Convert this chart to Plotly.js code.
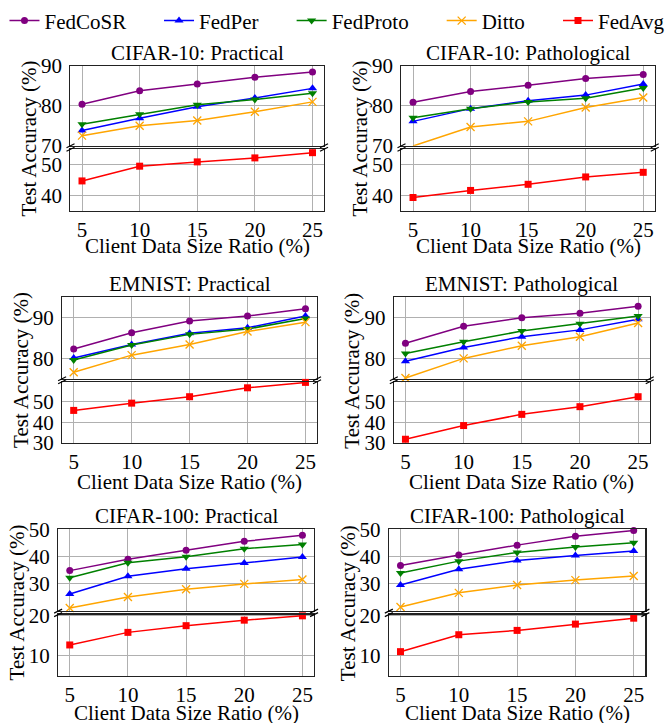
<!DOCTYPE html>
<html><head><meta charset="utf-8">
<script src="https://cdn.plot.ly/plotly-3.0.1.min.js"></script>
<style>body{margin:0;background:#fff;} #chart{width:670px;height:723px;}</style>
</head><body><div id="chart"></div>
<script>
// ---------------- data ----------------
const ratios = [5, 10, 15, 20, 25];
const seriesNames = ['FedCoSR', 'FedPer', 'FedProto', 'Ditto', 'FedAvg'];
const panelTitles = ['CIFAR-10: Practical', 'CIFAR-10: Pathological',
                     'EMNIST: Practical', 'EMNIST: Pathological',
                     'CIFAR-100: Practical', 'CIFAR-100: Pathological'];
// one row per panel, in the order of panelTitles
const fedCoSR = [
  [80.4, 83.8, 85.5, 87.2, 88.5],
  [80.9, 83.6, 85.2, 86.9, 87.9],
  [82.3, 86.3, 89.2, 90.4, 92.2],
  [83.7, 87.9, 90.0, 91.1, 92.8],
  [34.8, 39.0, 42.3, 45.6, 47.8],
  [36.7, 40.6, 44.2, 47.5, 49.6]];
const fedPer = [
  [73.8, 76.9, 79.8, 82.0, 84.4],
  [76.1, 79.3, 81.3, 82.7, 85.5],
  [80.1, 83.4, 86.2, 87.5, 90.4],
  [79.3, 82.7, 85.3, 87.0, 89.6],
  [26.2, 32.7, 35.5, 37.6, 39.8],
  [29.5, 35.3, 38.5, 40.4, 42.0]];
const fedProto = [
  [75.4, 77.9, 80.3, 81.6, 83.2],
  [77.0, 79.3, 81.0, 81.9, 84.5],
  [79.6, 83.3, 85.9, 87.2, 89.8],
  [81.2, 84.1, 86.7, 88.5, 90.4],
  [32.2, 37.7, 39.9, 42.9, 44.4],
  [33.9, 38.3, 41.5, 43.5, 45.1]];
const ditto = [
  [72.5, 75.0, 76.3, 78.5, 81.0],
  [69.9, 74.7, 76.1, 79.6, 82.1],
  [76.6, 80.8, 83.4, 86.6, 88.9],
  [75.2, 80.0, 83.1, 85.3, 88.7],
  [21.0, 25.1, 27.9, 29.9, 31.5],
  [21.4, 26.6, 29.5, 31.3, 32.8]];
const fedAvg = [
  [44.7, 49.5, 50.9, 52.2, 53.9],
  [39.3, 41.6, 43.6, 46.0, 47.5],
  [45.7, 49.2, 52.3, 56.6, 59.2],
  [31.8, 38.4, 43.8, 47.5, 52.3],
  [12.6, 15.8, 17.5, 18.9, 20.0],
  [10.9, 15.2, 16.3, 17.9, 19.4]];
const upperTicks = [[70, 80, 90], [70, 80, 90], [80, 90], [80, 90], [30, 40, 50], [30, 40, 50]];
const lowerTicks = [[40, 50], [40, 50], [30, 40, 50], [30, 40, 50], [10, 20], [10, 20]];
const xTicks = [5, 10, 15, 20, 25];

// ---------------- styles / geometry ----------------
const W = 670, H = 723;
const FONT = '"Liberation Serif", "Times New Roman", Times, serif';
const FS = 21;
const styles = [
  {color: '#800080', symbol: 'circle', size: 7},
  {color: '#0000ff', symbol: 'triangle-up', size: 8},
  {color: '#008000', symbol: 'triangle-down', size: 8},
  {color: '#ffa500', symbol: 'x-thin-open', size: 8},
  {color: '#ff0000', symbol: 'square', size: 7}];
const upperSeries = [fedCoSR, fedPer, fedProto, ditto];
// pixel geometry of each panel
const geo = [
  {x: [70.7, 325.0], up: [65, 145], lo: [148.5, 210], upR: [69.95, 90.05], loR: [35, 55]},
  {x: [402.7, 656.7], up: [65, 145], lo: [148.5, 210], upR: [69.95, 90.05], loR: [35, 55]},
  {x: [62.3, 318.0], up: [296.7, 378.3], lo: [381.3, 442.7], upR: [75, 95], loR: [29.95, 59.5]},
  {x: [395.0, 651.7], up: [296.7, 378.3], lo: [381.3, 442.7], upR: [75, 95], loR: [29.95, 59.5]},
  {x: [58.3, 315.0], up: [529, 611], lo: [614.5, 676], upR: [19.85, 50.05], loR: [4.7, 20.3]},
  {x: [390.0, 647.3], up: [529, 611], lo: [614.5, 676], upR: [19.85, 50.05], loR: [4.7, 20.3]}];
const rowText = [
  {title: 52, xlab: 245},
  {title: 283.3, xlab: 481.7},
  {title: 516, xlab: 713}];

const px = v => v / W;
const py = v => 1 - v / H;

const traces = [];
const layout = {
  width: W, height: H, margin: {l: 0, r: 0, t: 0, b: 0},
  paper_bgcolor: '#ffffff', plot_bgcolor: '#ffffff',
  font: {family: FONT, size: FS, color: '#000'},
  annotations: [], shapes: [], showlegend: true
};

function axBase(range, domain) {
  return {
    range: range, domain: domain, showgrid: true, gridcolor: '#b0b0b0', gridwidth: 1,
    zeroline: false, showline: true, mirror: true, linecolor: '#222', linewidth: 1.2,
    ticks: '', tickfont: {family: FONT, size: FS, color: '#000'}, fixedrange: true
  };
}

geo.forEach((g, p) => {
  const t = 2 * p + 1, b = 2 * p + 2;
  const xd = [px(g.x[0]), px(g.x[1])];
  const xn = i => (i === 1 ? 'xaxis' : 'xaxis' + i);
  const yn = i => (i === 1 ? 'yaxis' : 'yaxis' + i);
  const xr = i => (i === 1 ? 'x' : 'x' + i);
  const yr = i => (i === 1 ? 'y' : 'y' + i);
  const row = Math.floor(p / 2);

  layout[xn(t)] = Object.assign(axBase([4, 26], xd), {anchor: yr(t), tickvals: xTicks, showticklabels: false});
  layout[yn(t)] = Object.assign(axBase(g.upR, [py(g.up[1]), py(g.up[0])]), {anchor: xr(t), tickvals: upperTicks[p], ticklabelstandoff: 3});
  layout[xn(b)] = Object.assign(axBase([4, 26], xd), {anchor: yr(b), tickvals: xTicks, ticklabelstandoff: 0});
  layout[yn(b)] = Object.assign(axBase(g.loR, [py(g.lo[1]), py(g.lo[0])]), {anchor: xr(b), tickvals: lowerTicks[p], ticklabelstandoff: 3});

  upperSeries.forEach((s, k) => {
    const st = styles[k];
    traces.push({
      type: 'scatter', mode: 'lines+markers', x: ratios, y: s[p], name: seriesNames[k],
      xaxis: xr(t), yaxis: yr(t), cliponaxis: false,
      line: {color: st.color, width: 1.5},
      marker: {symbol: st.symbol, size: st.size, color: st.color, line: {color: st.color, width: st.symbol === 'x-thin-open' ? 1.3 : 0}},
      showlegend: p === 0, legend: k === 0 ? 'legend' : 'legend' + (k + 1)
    });
  });
  const st = styles[4];
  traces.push({
    type: 'scatter', mode: 'lines+markers', x: ratios, y: fedAvg[p], name: seriesNames[4],
    xaxis: xr(b), yaxis: yr(b), cliponaxis: false,
    line: {color: st.color, width: 1.5},
    marker: {symbol: st.symbol, size: st.size, color: st.color},
    showlegend: p === 0, legend: 'legend5'
  });

  const cx = (g.x[0] + g.x[1]) / 2;
  layout.annotations.push({text: panelTitles[p], xref: 'paper', yref: 'paper', x: px(cx), y: py(rowText[row].title),
    xanchor: 'center', yanchor: 'middle', showarrow: false, font: {family: FONT, size: FS, color: '#000'}});
  layout.annotations.push({text: 'Client Data Size Ratio (%)', xref: 'paper', yref: 'paper', x: px(cx), y: py(rowText[row].xlab),
    xanchor: 'center', yanchor: 'middle', showarrow: false, font: {family: FONT, size: FS, color: '#000'}});
  layout.annotations.push({text: 'Test Accuracy (%)', xref: 'paper', yref: 'paper', x: px(g.x[0] - 41.5), y: py((g.up[0] + g.lo[1]) / 2),
    xanchor: 'center', yanchor: 'middle', textangle: -90, showarrow: false, font: {family: FONT, size: FS, color: '#000'}});

  // break marks
  const mark = (xref, yref, xa, ya) => ({type: 'line', xref: xref, yref: yref, xsizemode: 'pixel', ysizemode: 'pixel',
    xanchor: xa, yanchor: ya, x0: -4, x1: 4, y0: -2, y1: 2, line: {color: '#000', width: 1.2}});
  [0, 1].forEach(xa => {
    layout.shapes.push(mark(xr(t) + ' domain', yr(t) + ' domain', xa, 0));
    layout.shapes.push(mark(xr(b) + ' domain', yr(b) + ' domain', xa, 1));
  });
});

// legends: one per series, placed along the top
const legendMarkerX = [26.5, 181.5, 314.5, 465, 582];
legendMarkerX.forEach((mx, k) => {
  const key = k === 0 ? 'legend' : 'legend' + (k + 1);
  layout[key] = {orientation: 'h', x: px(mx - 22), xanchor: 'left', y: py(20), yanchor: 'middle',
    bgcolor: 'rgba(0,0,0,0)', borderwidth: 0, font: {family: FONT, size: FS, color: '#000'}};
});

Plotly.newPlot('chart', traces, layout, {staticPlot: true, displayModeBar: false});
</script>
</body></html>
